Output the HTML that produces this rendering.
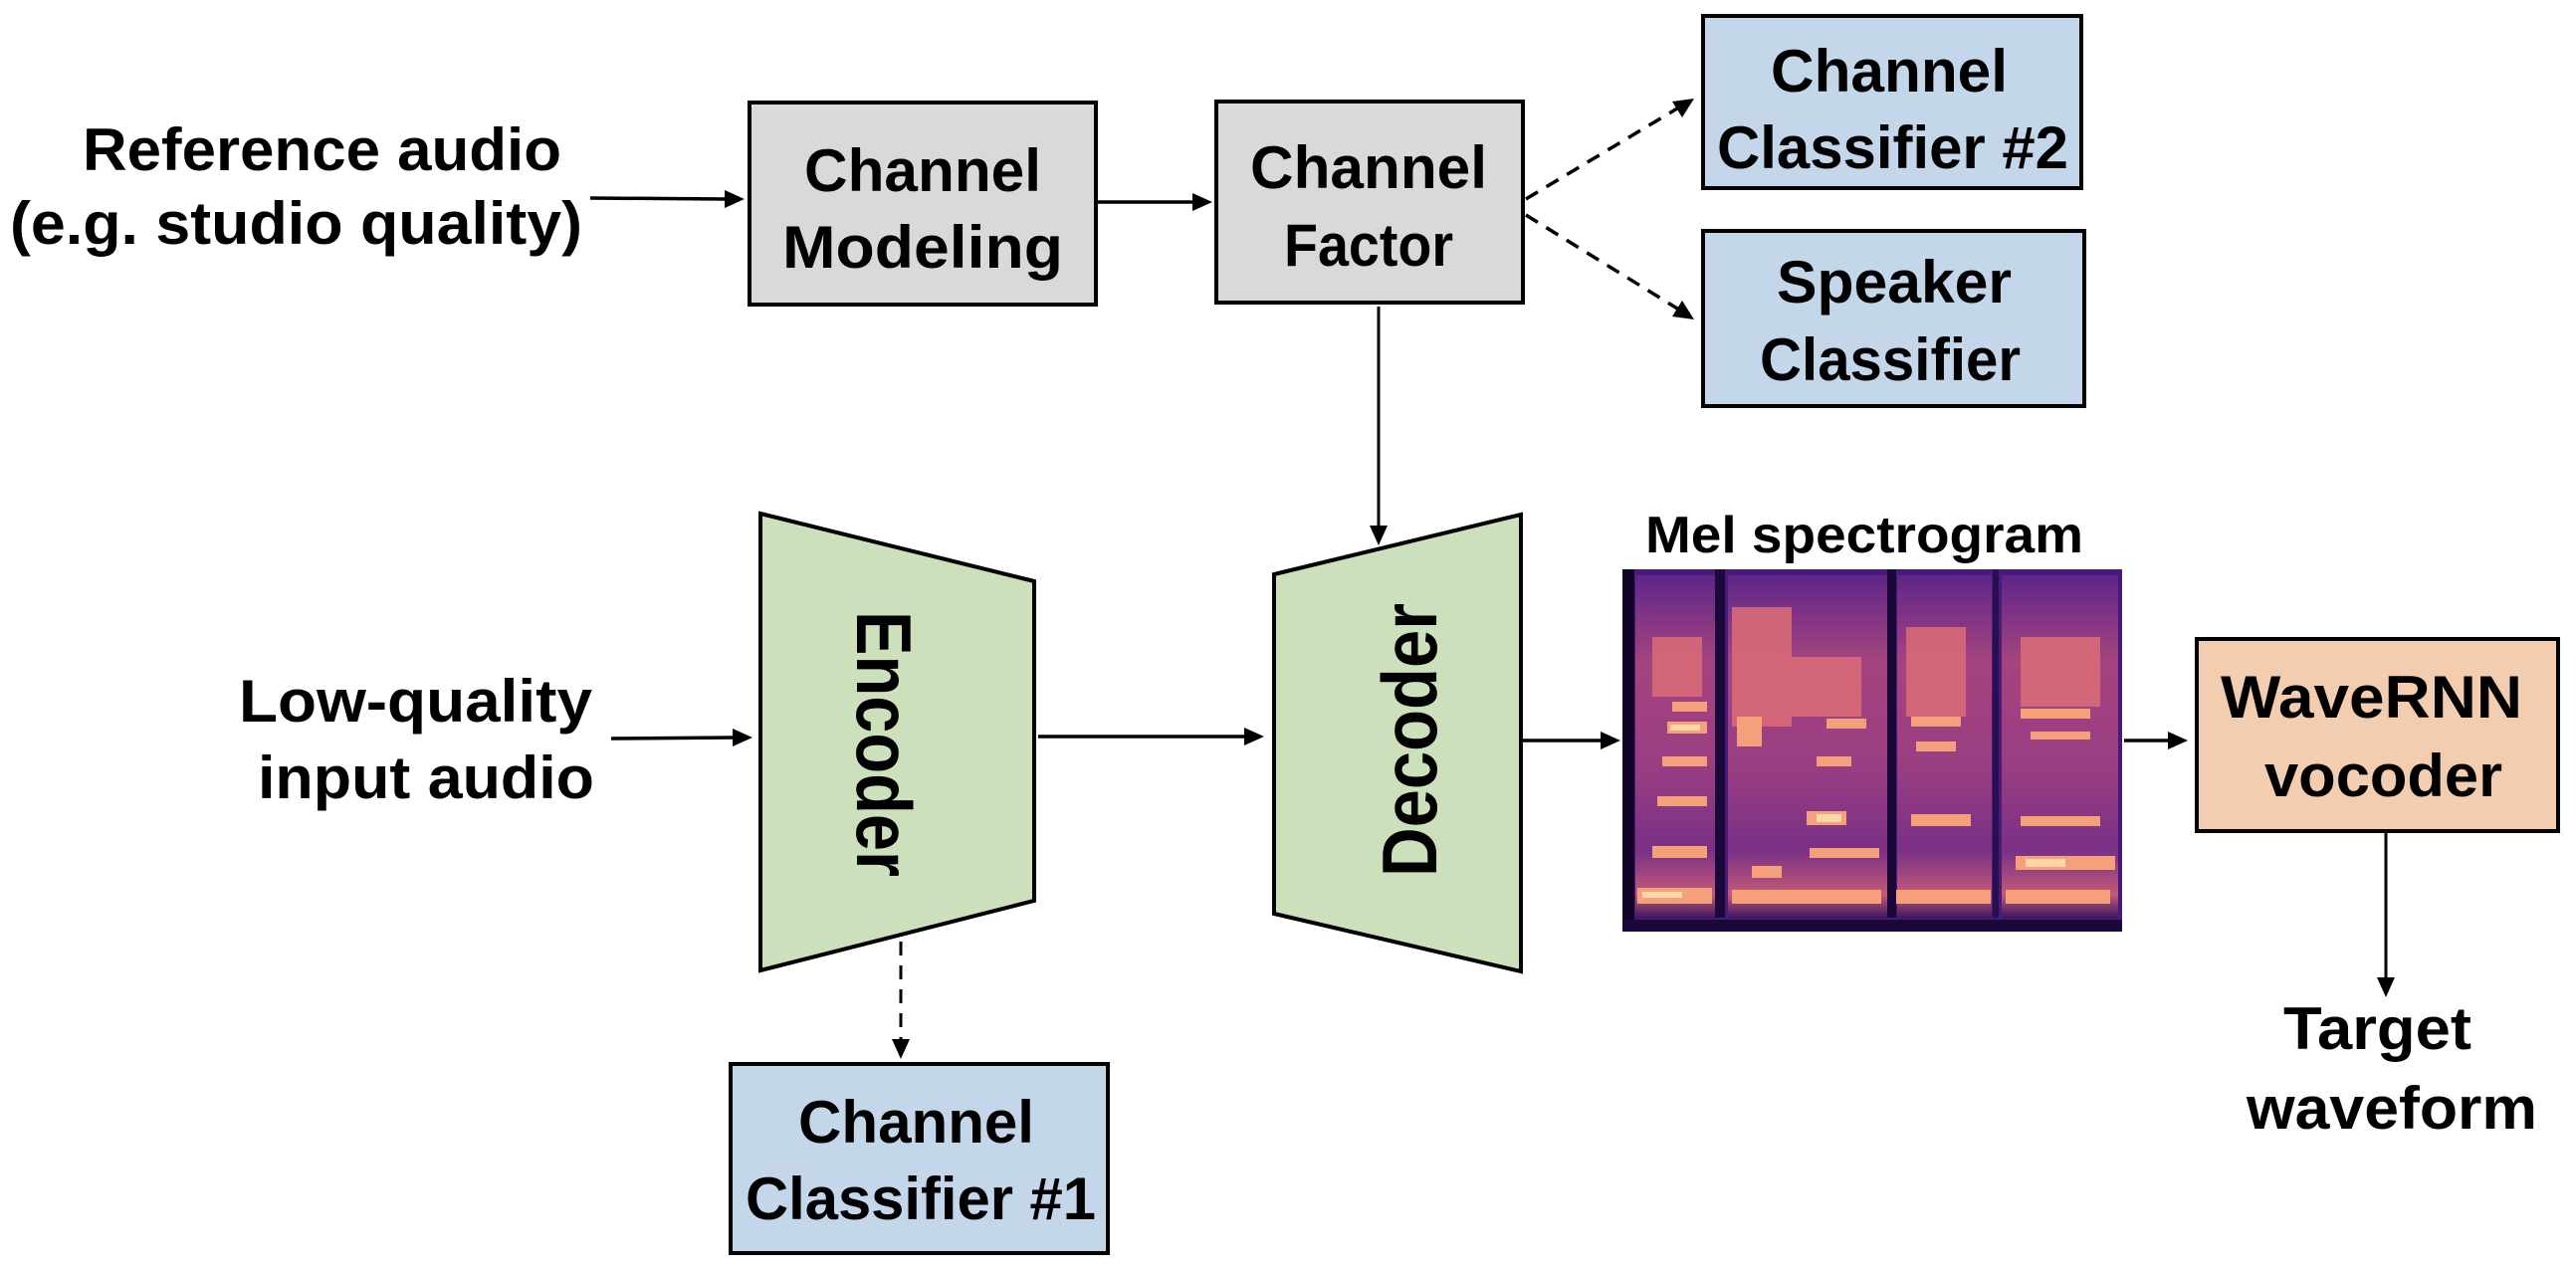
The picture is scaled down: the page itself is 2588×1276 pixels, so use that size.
<!DOCTYPE html>
<html><head><meta charset="utf-8"><style>
html,body{margin:0;padding:0;background:#fff;}
svg{display:block;}
text{font-family:"Liberation Sans",sans-serif;font-weight:bold;fill:#000;}
</style></head><body>
<svg width="2588" height="1276" viewBox="0 0 2588 1276" xmlns="http://www.w3.org/2000/svg">
<defs>
<linearGradient id="colg" x1="0" y1="0" x2="0" y2="1">
<stop offset="0" stop-color="#5e2688"/><stop offset="0.25" stop-color="#a4447e"/><stop offset="0.55" stop-color="#9a3e82"/><stop offset="0.8" stop-color="#7a3086"/><stop offset="0.93" stop-color="#c25a78"/><stop offset="1" stop-color="#3a1460"/>
</linearGradient>
</defs>

<text x="83" y="171" font-size="60" textLength="481" lengthAdjust="spacingAndGlyphs">Reference audio</text>
<text x="10" y="245" font-size="60" textLength="575" lengthAdjust="spacingAndGlyphs">(e.g. studio quality)</text>
<line x1="593" y1="199" x2="730" y2="200" stroke="#000" stroke-width="3.5"/>
<polygon points="748,200 728,191 728,209" fill="#000"/>

<rect x="753" y="103" width="348" height="203" fill="#d9d9d9" stroke="#000" stroke-width="4"/>
<text x="808" y="192" font-size="60" textLength="238" lengthAdjust="spacingAndGlyphs">Channel</text>
<text x="786" y="269" font-size="60" textLength="282" lengthAdjust="spacingAndGlyphs">Modeling</text>
<line x1="1101" y1="203" x2="1200" y2="203" stroke="#000" stroke-width="3.5"/>
<polygon points="1218,203 1198,194 1198,212" fill="#000"/>

<rect x="1222" y="102" width="308" height="202" fill="#d9d9d9" stroke="#000" stroke-width="4"/>
<text x="1256" y="189" font-size="60" textLength="238" lengthAdjust="spacingAndGlyphs">Channel</text>
<text x="1290" y="267" font-size="60" textLength="170" lengthAdjust="spacingAndGlyphs">Factor</text>

<line x1="1533" y1="200" x2="1690" y2="106" stroke="#000" stroke-width="3.5" stroke-dasharray="14,10"/>
<polygon points="1702,99 1680,102 1690,118" fill="#000"/>
<line x1="1533" y1="216" x2="1690" y2="313" stroke="#000" stroke-width="3.5" stroke-dasharray="14,10"/>
<polygon points="1702,321 1690,302 1680,318" fill="#000"/>

<rect x="1711" y="16" width="380" height="173" fill="#c3d6ea" stroke="#000" stroke-width="4"/>
<text x="1779" y="92" font-size="60" textLength="238" lengthAdjust="spacingAndGlyphs">Channel</text>
<text x="1725" y="169" font-size="60" textLength="353" lengthAdjust="spacingAndGlyphs">Classifier #2</text>

<rect x="1711" y="232" width="383" height="176" fill="#c3d6ea" stroke="#000" stroke-width="4"/>
<text x="1785" y="304" font-size="60" textLength="236" lengthAdjust="spacingAndGlyphs">Speaker</text>
<text x="1768" y="382" font-size="60" textLength="262" lengthAdjust="spacingAndGlyphs">Classifier</text>

<line x1="1385" y1="308" x2="1385" y2="530" stroke="#000" stroke-width="3"/>
<polygon points="1385,548 1376,528 1394,528" fill="#000"/>

<text x="240" y="725" font-size="60" textLength="355" lengthAdjust="spacingAndGlyphs">Low-quality</text>
<text x="259" y="802" font-size="60" textLength="338" lengthAdjust="spacingAndGlyphs">input audio</text>
<line x1="614" y1="742" x2="738" y2="741" stroke="#000" stroke-width="3.5"/>
<polygon points="756,741 736,732 736,750" fill="#000"/>

<polygon points="764,516 1039,584 1039,905 764,975" fill="#cce0bb" stroke="#000" stroke-width="4"/>
<text transform="translate(861,614) rotate(90)" x="0" y="0" font-size="78" font-family="DejaVu Sans" textLength="267" lengthAdjust="spacingAndGlyphs">Encoder</text>

<line x1="1043" y1="740" x2="1252" y2="740" stroke="#000" stroke-width="3.5"/>
<polygon points="1270,740 1250,731 1250,749" fill="#000"/>

<line x1="905" y1="946" x2="905" y2="1045" stroke="#000" stroke-width="3" stroke-dasharray="14,10"/>
<polygon points="905,1064 896,1044 914,1044" fill="#000"/>

<rect x="734" y="1069" width="379" height="190" fill="#c3d6ea" stroke="#000" stroke-width="4"/>
<text x="802" y="1148" font-size="60" textLength="237" lengthAdjust="spacingAndGlyphs">Channel</text>
<text x="749" y="1225" font-size="60" textLength="352" lengthAdjust="spacingAndGlyphs">Classifier #1</text>

<polygon points="1280,577 1528,517 1528,976 1280,918" fill="#cce0bb" stroke="#000" stroke-width="4"/>
<text transform="translate(1443,881) rotate(-90)" x="0" y="0" font-size="78" font-family="DejaVu Sans" textLength="275" lengthAdjust="spacingAndGlyphs">Decoder</text>

<line x1="1528" y1="744" x2="1610" y2="744" stroke="#000" stroke-width="3.5"/>
<polygon points="1628,744 1608,735 1608,753" fill="#000"/>

<text x="1653" y="555" font-size="52" textLength="440" lengthAdjust="spacingAndGlyphs">Mel spectrogram</text>
<g>
<rect x="1630" y="572" width="502" height="364" fill="#4a1a7a"/>
<rect x="1643" y="578" width="80" height="345" fill="url(#colg)"/>
<rect x="1736" y="578" width="160" height="345" fill="url(#colg)"/>
<rect x="1906" y="578" width="95" height="345" fill="url(#colg)"/>
<rect x="2011" y="578" width="117" height="345" fill="url(#colg)"/>
<rect x="1630" y="572" width="12" height="364" fill="#120428"/>
<rect x="1723" y="572" width="10" height="350" fill="#1a0838"/>
<rect x="1896" y="572" width="9" height="350" fill="#1a0838"/>
<rect x="2002" y="572" width="6" height="350" fill="#2a0f50"/>
<rect x="1630" y="924" width="502" height="12" fill="#1a0838"/>
<g fill="#d86a78" opacity="0.9">
<rect x="1660" y="640" width="50" height="60"/>
<rect x="1740" y="610" width="60" height="120"/>
<rect x="1800" y="660" width="70" height="60"/>
<rect x="1915" y="630" width="60" height="90"/>
<rect x="2030" y="640" width="80" height="70"/>
</g>
<g fill="#f4a07a">
<rect x="1645" y="892" width="75" height="16"/>
<rect x="1740" y="894" width="150" height="14"/>
<rect x="1905" y="894" width="95" height="14"/>
<rect x="2015" y="894" width="105" height="14"/>
<rect x="1660" y="850" width="55" height="12"/>
<rect x="1818" y="852" width="70" height="10"/>
<rect x="1760" y="870" width="30" height="12"/>
<rect x="2025" y="860" width="100" height="14"/>
<rect x="1815" y="815" width="40" height="14"/>
<rect x="1920" y="818" width="60" height="12"/>
<rect x="2030" y="820" width="80" height="10"/>
<rect x="1665" y="800" width="50" height="10"/>
<rect x="1670" y="760" width="45" height="10"/>
<rect x="1675" y="725" width="40" height="12"/>
<rect x="1680" y="705" width="35" height="10"/>
<rect x="1920" y="720" width="50" height="10"/>
<rect x="1925" y="745" width="40" height="10"/>
<rect x="2030" y="712" width="70" height="10"/>
<rect x="2040" y="735" width="60" height="8"/>
<rect x="1835" y="722" width="40" height="10"/>
<rect x="1825" y="760" width="35" height="10"/>
<rect x="1745" y="720" width="25" height="30"/>
</g>
<g fill="#fcd8a8">
<rect x="1678" y="728" width="30" height="6"/>
<rect x="1825" y="818" width="25" height="8"/>
<rect x="2035" y="863" width="40" height="8"/>
<rect x="1650" y="896" width="40" height="6"/>
</g>
</g>

<line x1="2134" y1="744" x2="2180" y2="744" stroke="#000" stroke-width="3.5"/>
<polygon points="2198,744 2178,735 2178,753" fill="#000"/>

<rect x="2207" y="642" width="363" height="193" fill="#f2cdb0" stroke="#000" stroke-width="4"/>
<text x="2231" y="721" font-size="60" textLength="303" lengthAdjust="spacingAndGlyphs">WaveRNN</text>
<text x="2275" y="800" font-size="60" textLength="239" lengthAdjust="spacingAndGlyphs">vocoder</text>

<line x1="2397" y1="836" x2="2397" y2="984" stroke="#000" stroke-width="3"/>
<polygon points="2397,1002 2388,982 2406,982" fill="#000"/>

<text x="2294" y="1054" font-size="60" textLength="189" lengthAdjust="spacingAndGlyphs">Target</text>
<text x="2257" y="1134" font-size="60" textLength="292" lengthAdjust="spacingAndGlyphs">waveform</text>
</svg>
</body></html>
